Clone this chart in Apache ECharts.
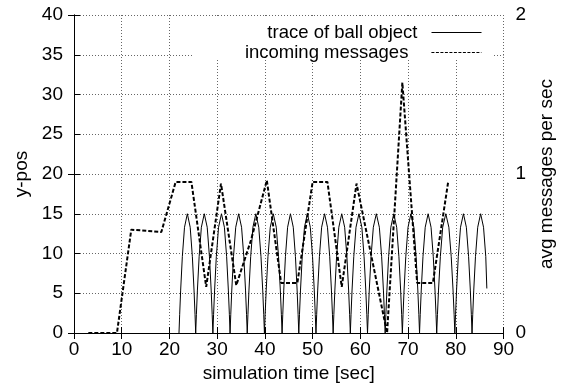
<!DOCTYPE html>
<html>
<head>
<meta charset="utf-8">
<script src="https://cdn.jsdelivr.net/npm/echarts@6/dist/echarts.min.js"></script>
<style>
  html, body { margin: 0; padding: 0; background: #fff; }
  #chart { width: 564px; height: 392px; }
</style>
</head>
<body>
<div id="chart"></div>
<script>
// touchdown times of the bouncing ball (sec)
const bounceTimes = [22.0, 25.5, 29.1, 32.7, 36.3, 39.9, 43.6, 47.1, 50.7, 54.3, 57.9, 61.5, 65.2, 68.8, 72.4, 76.0, 79.8, 83.4];
// shape of one bounce: fraction of the bounce, height
const arcFrac = [0, 0.04, 0.1, 0.2, 0.33, 0.5, 0.67, 0.8, 0.9, 0.96, 1];
const arcHeight = [0, 2.3, 5.4, 9.6, 13.3, 15, 13.3, 9.6, 5.4, 2.3, 0];
// last bounce is cut off
const lastBounceEnd = 87.0;
const traceEnd = [86.5, 5.6];

// incoming messages (avg per sec, right axis)
const msgTime = [3.0, 9.0, 12.0, 18.3, 21.3, 24.6, 27.7, 30.8, 34.0, 37.1, 40.4, 43.4, 46.8, 50.0, 53.1, 56.1, 59.2, 65.6, 68.8, 71.9, 75.2, 78.4];
const msgRate = [0, 0, 0.65, 0.635, 0.95, 0.95, 0.29, 0.94, 0.30, 0.585, 0.96, 0.315, 0.315, 0.95, 0.95, 0.29, 0.94, 0, 1.575, 0.315, 0.315, 0.95];

const xTicks = [0, 90, 10];
const yTicks = [0, 40, 5];
const y2Ticks = [0, 2, 1];

// build the ball trace from the bounces
const ballData = [];
for (let i = 0; i < bounceTimes.length; i++) {
  const t0 = bounceTimes[i];
  const t1 = i + 1 < bounceTimes.length ? bounceTimes[i + 1] : lastBounceEnd;
  arcFrac.forEach((f, k) => {
    const t = t0 + f * (t1 - t0);
    if (k === 0 && i > 0) return; // shared touchdown point
    if (t < traceEnd[0]) ballData.push([t, arcHeight[k]]);
  });
}
ballData.push(traceEnd);

const msgData = msgTime.map((t, i) => [t, msgRate[i]]);

const FONT = "'Liberation Sans', Arial, Helvetica, sans-serif";
const FS = 19;
const LEGEND_FS = 18.5;
const gridLine = { show: true, lineStyle: { color: "#666", width: 1, type: [1, 2] } };
const axisLine = { show: true, lineStyle: { color: "#000", width: 1 } };
const tick = { show: true, inside: true, length: 6, lineStyle: { color: "#000" } };
const label = { color: "#000", fontSize: FS, fontFamily: FONT };
const nameStyle = { color: "#000", fontSize: FS, fontFamily: FONT };

const chart = echarts.init(document.getElementById("chart"));
chart.setOption({
  animation: false,
  backgroundColor: "#fff",
  textStyle: { fontFamily: FONT },
  grid: { left: 74, right: 59, top: 15, bottom: 59, containLabel: false },
  // key box hides the grid behind it
  graphic: [{
    type: "rect", left: 193, top: 16, z: 1,
    shape: { width: 300, height: 42 },
    style: { fill: "#fff" }
  }],
  legend: [
    {
      data: ["trace of ball object"], right: 82, top: 23, orient: "vertical",
      align: "right", padding: 0, itemWidth: 50, itemHeight: 14,
      itemStyle: { color: "rgba(0,0,0,0)", borderWidth: 0 },
      textStyle: { color: "#000", fontSize: LEGEND_FS, fontFamily: FONT, padding: [0, 9, 0, 0] },
      lineStyle: { width: 1, type: "solid" }
    },
    {
      data: ["incoming messages"], right: 82, top: 43, orient: "vertical",
      align: "right", padding: 0, itemWidth: 50, itemHeight: 14,
      itemStyle: { color: "rgba(0,0,0,0)", borderWidth: 0 },
      textStyle: { color: "#000", fontSize: LEGEND_FS, fontFamily: FONT, padding: [0, 18, 0, 0] },
      lineStyle: { width: 1.2, type: [3, 1.5] }
    }
  ],
  xAxis: [
    {
      type: "value", position: "bottom", min: xTicks[0], max: xTicks[1], interval: xTicks[2],
      name: "simulation time [sec]", nameLocation: "middle", nameGap: 31,
      nameTextStyle: nameStyle,
      axisLine, axisTick: tick, axisLabel: { ...label, margin: 7 },
      splitLine: gridLine
    },
    {
      type: "value", position: "top", min: xTicks[0], max: xTicks[1], interval: xTicks[2],
      axisLine, axisTick: tick, axisLabel: { show: false }, splitLine: { show: false }
    }
  ],
  yAxis: [
    {
      type: "value", position: "left", min: yTicks[0], max: yTicks[1], interval: yTicks[2],
      name: "y-pos", nameLocation: "middle", nameGap: 43,
      nameTextStyle: nameStyle,
      axisLine, axisTick: tick, axisLabel: { ...label, margin: 11 },
      splitLine: gridLine
    },
    {
      type: "value", position: "right", min: y2Ticks[0], max: y2Ticks[1], interval: y2Ticks[2],
      name: "avg messages per sec", nameLocation: "middle", nameGap: 32,
      nameTextStyle: nameStyle,
      axisLine, axisTick: tick, axisLabel: { ...label, margin: 12 },
      splitLine: { show: false }
    }
  ],
  series: [
    {
      name: "trace of ball object", type: "line", xAxisIndex: 0, yAxisIndex: 0,
      data: ballData, symbol: "none", z: 3,
      lineStyle: { color: "#000", width: 1 }, itemStyle: { color: "#000" }
    },
    {
      name: "incoming messages", type: "line", xAxisIndex: 0, yAxisIndex: 1,
      data: msgData, symbol: "none", z: 4,
      lineStyle: { color: "#000", width: 2, type: [4, 2] }, itemStyle: { color: "#000" }
    }
  ]
});
</script>
</body>
</html>
